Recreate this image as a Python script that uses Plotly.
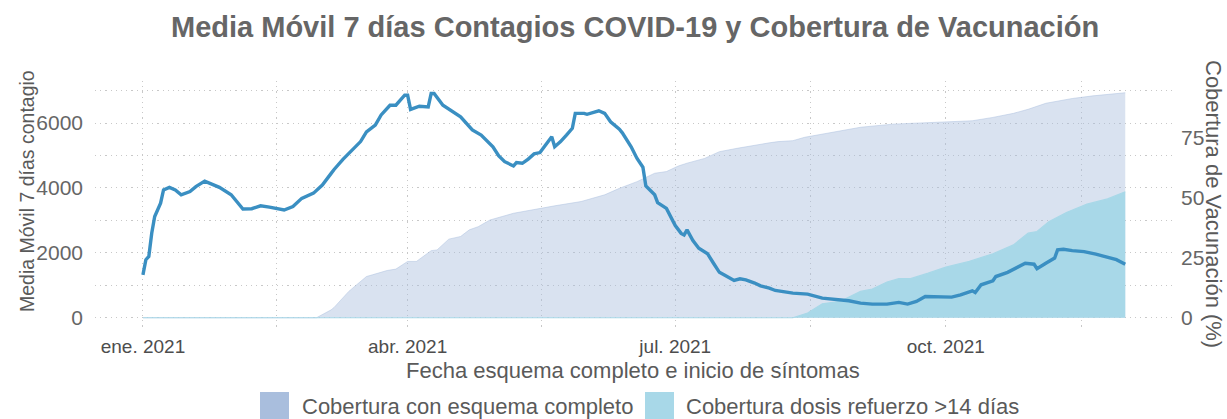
import pandas as pd
import plotly.graph_objects as go

START = pd.Timestamp("2021-01-01")

# 7-day moving average of cases (day offset from 2021-01-01, value)
case_day = [0, 1, 2, 3, 4, 6, 7, 9, 11, 13, 16, 18, 21, 23, 26, 30, 32, 34, 37, 40, 43, 45, 48, 51,
            54, 58, 61, 64, 65, 68, 70, 74, 76, 79, 81, 84, 86, 89, 90, 91, 94, 97, 98, 99, 102,
            104, 108, 112, 115, 119, 121, 123, 126, 127, 129, 131, 133, 135, 137, 139, 140, 142,
            144, 146, 147, 150, 151, 153, 155, 157, 159, 162, 163, 166, 168, 170, 171, 174, 175,
            178, 181, 183, 184, 185, 187, 189, 192, 194, 196, 198, 201, 203, 205, 208, 210, 213,
            215, 221, 226, 231, 237, 240, 244, 248, 253, 257, 260, 263, 266, 270, 275, 278, 282,
            283, 285, 289, 290, 294, 297, 300, 303, 304, 307, 310, 311, 313, 316, 320, 324, 329,
            331, 334]
case_ma7 = [1320, 1790, 1890, 2610, 3120, 3530, 3940, 4020, 3940, 3790, 3890, 4040, 4210, 4140,
            4020, 3790, 3580, 3350, 3360, 3450, 3410, 3370, 3320, 3430, 3680, 3840, 4090, 4450,
            4570, 4880, 5070, 5430, 5730, 5940, 6250, 6550, 6550, 6860, 6860, 6420, 6520, 6500,
            6910, 6910, 6550, 6420, 6190, 5790, 5630, 5270, 4990, 4810, 4680, 4780, 4760, 4890,
            5050, 5090, 5320, 5580, 5270, 5430, 5630, 5840, 6300, 6300, 6270, 6330, 6380, 6300,
            6040, 5810, 5700, 5270, 4910, 4640, 4060, 3790, 3550, 3370, 2840, 2600, 2550, 2710,
            2380, 2140, 1970, 1680, 1400, 1300, 1150, 1200, 1170, 1070, 985, 914, 841, 759, 728,
            605, 554, 523, 451, 421, 421, 472, 421, 503, 656, 656, 636, 708, 831, 779, 1015, 1140,
            1270, 1400, 1550, 1680, 1650, 1510, 1680, 1840, 2090, 2110, 2070, 2040, 1960, 1840,
            1790, 1650]

# Coverage with complete scheme (%)
full_day = [0, 59, 64, 65, 70, 76, 78, 83, 86, 90, 93, 98, 100, 104, 108, 111, 114, 118, 126,
            135, 140, 149, 157, 162, 168, 174, 178, 182, 185, 191, 196, 202, 208, 213, 216, 221,
            225, 233, 238, 244, 255, 267, 273, 282, 289, 296, 301, 307, 316, 323, 334]
full_pct = [0, 0, 3.3, 4.3, 11.0, 17.2, 17.9, 19.7, 20.3, 23.5, 23.5, 28.0, 28.3, 32.8, 33.9,
            36.7, 38.0, 40.8, 43.6, 45.7, 46.7, 48.5, 51.3, 54.0, 56.8, 60.3, 61.0, 63.3, 64.5,
            66.5, 69.3, 70.7, 72.1, 73.0, 73.5, 73.9, 75.3, 77.2, 78.3, 79.5, 80.8, 81.4, 81.8,
            82.2, 83.6, 85.3, 87.0, 89.5, 91.5, 92.6, 93.9]

# Booster coverage >14 days (%)
boost_day = [0, 221, 226, 231, 237, 244, 248, 253, 257, 261, 267, 273, 281, 289, 296, 301, 304,
             308, 314, 321, 328, 334]
boost_pct = [0, 0, 2.0, 5.8, 6.8, 11.0, 12.0, 14.9, 16.3, 16.3, 18.6, 21.1, 23.5, 26.7, 30.4,
             35.3, 36.0, 40.1, 43.9, 47.4, 49.6, 52.6]

x_tick_dates = ["2021-01-01", "2021-04-01", "2021-07-01", "2021-10-01"]
x_tick_text = ["ene. 2021", "abr. 2021", "jul. 2021", "oct. 2021"]
x_minor_dates = ["2021-02-15 12:00:00", "2021-05-16 12:00:00", "2021-08-16", "2021-11-16"]
left_ticks = [0, 2000, 4000, 6000]
left_minor = [1000, 3000, 5000, 7000]
right_ticks = [0, 25, 50, 75]

TITLE = "Media Móvil 7 días Contagios COVID-19 y Cobertura de Vacunación"
LEG1 = "Cobertura con esquema completo"
LEG2 = "Cobertura dosis refuerzo >14 días"

FONT = "Liberation Sans, Arial, sans-serif"
W, H = 1227, 419
ML, MR, MT, MB = 95, 55, 81, 90
PW, PH = W - ML - MR, H - MT - MB


def px(x):
    return (x - ML) / PW


def py(y):
    return (H - MB - y) / PH


def dates(days):
    return START + pd.to_timedelta(days, unit="D")


fig = go.Figure()
fig.add_trace(go.Scatter(x=dates(full_day), y=full_pct, mode="lines", fill="tozeroy",
                         fillcolor="rgba(169,190,221,0.44)",
                         line=dict(color="rgba(169,190,221,0.6)", width=0.8),
                         yaxis="y", showlegend=False, hoverinfo="skip"))
fig.add_trace(go.Scatter(x=dates(boost_day), y=boost_pct, mode="lines", fill="tozeroy",
                         fillcolor="#a8d8e8", line=dict(color="#a8d8e8", width=1.2),
                         yaxis="y", showlegend=False, hoverinfo="skip"))
fig.add_trace(go.Scatter(x=dates(case_day), y=case_ma7, mode="lines",
                         line=dict(color="#3a8fc2", width=3.4), yaxis="y2", showlegend=False))

gridc = "#c8c8c8"
gdash = "1.2px,4px"
x_vals = x_tick_dates + x_minor_dates
x_text = x_tick_text + [""] * len(x_minor_dates)

x_range = [START + pd.Timedelta(days=-16.3), START + pd.Timedelta(days=349.9)]
l_vals = left_ticks + left_minor
l_text = [str(v) for v in left_ticks] + [""] * len(left_minor)

fig.update_layout(
    width=W, height=H, autosize=False,
    margin=dict(l=ML, r=MR, t=MT, b=MB),
    paper_bgcolor="white", plot_bgcolor="white",
    font=dict(family=FONT, color="#666666"),
    showlegend=False,
    xaxis=dict(type="date", range=x_range, tickmode="array", tickvals=x_vals, ticktext=x_text,
               showgrid=True, gridcolor=gridc, griddash=gdash, gridwidth=1.2, zeroline=False,
               showline=False, ticks="", ticklabelstandoff=4,
               tickfont=dict(size=19, color="#4d4d4d", family=FONT)),
    yaxis=dict(side="right", range=[-4.7, 98.8], tickmode="array", tickvals=right_ticks,
               showgrid=False, zeroline=False, showline=False, ticks="", ticklabelstandoff=8,
               tickfont=dict(size=21, color="#666666", family=FONT)),
    yaxis2=dict(side="left", overlaying="y", range=[-347, 7297], tickmode="array",
                tickvals=l_vals, ticktext=l_text,
                showgrid=True, gridcolor=gridc, griddash=gdash, gridwidth=1.2, zeroline=False,
                showline=False, ticks="", ticklabelstandoff=11,
                tickfont=dict(size=21, color="#666666", family=FONT)),
)

ann = []
ann.append(dict(text="<b>" + TITLE + "</b>", x=px(635), y=py(27), xref="paper", yref="paper",
                showarrow=False, xanchor="center", yanchor="middle",
                font=dict(size=29, color="#666666", family=FONT)))
ann.append(dict(text="Media Móvil 7 días contagio", x=px(27), y=py(191), xref="paper",
                yref="paper", showarrow=False, textangle=-90, xanchor="center",
                yanchor="middle", font=dict(size=19.5, color="#5a5a5a", family=FONT)))
ann.append(dict(text="Cobertura de Vacunación (%)", x=px(1214), y=py(204), xref="paper",
                yref="paper", showarrow=False, textangle=90, xanchor="center",
                yanchor="middle", font=dict(size=22, color="#5a5a5a", family=FONT)))
ann.append(dict(text="Fecha esquema completo e inicio de síntomas", x=px(633), y=py(370),
                xref="paper", yref="paper", showarrow=False, xanchor="center",
                yanchor="middle", font=dict(size=22, color="#5a5a5a", family=FONT)))
ann.append(dict(text=LEG1, x=px(300), y=py(406), xref="paper", yref="paper", showarrow=False,
                xanchor="left", yanchor="middle", font=dict(size=22, color="#5a5a5a", family=FONT)))
ann.append(dict(text=LEG2, x=px(684), y=py(406), xref="paper", yref="paper", showarrow=False,
                xanchor="left", yanchor="middle", font=dict(size=22, color="#5a5a5a", family=FONT)))
fig.update_layout(annotations=ann)

fig.add_shape(type="rect", xref="paper", yref="paper", x0=px(260), x1=px(289), y0=py(392),
              y1=py(420), fillcolor="#a9bedd", line=dict(width=0), layer="above")
fig.add_shape(type="rect", xref="paper", yref="paper", x0=px(645), x1=px(674), y0=py(392),
              y1=py(420), fillcolor="#a8d8e8", line=dict(width=0), layer="above")

fig.write_html("out.html", config={"displayModeBar": False},
               post_script="document.body.style.margin='0';document.body.style.overflow='hidden';")
